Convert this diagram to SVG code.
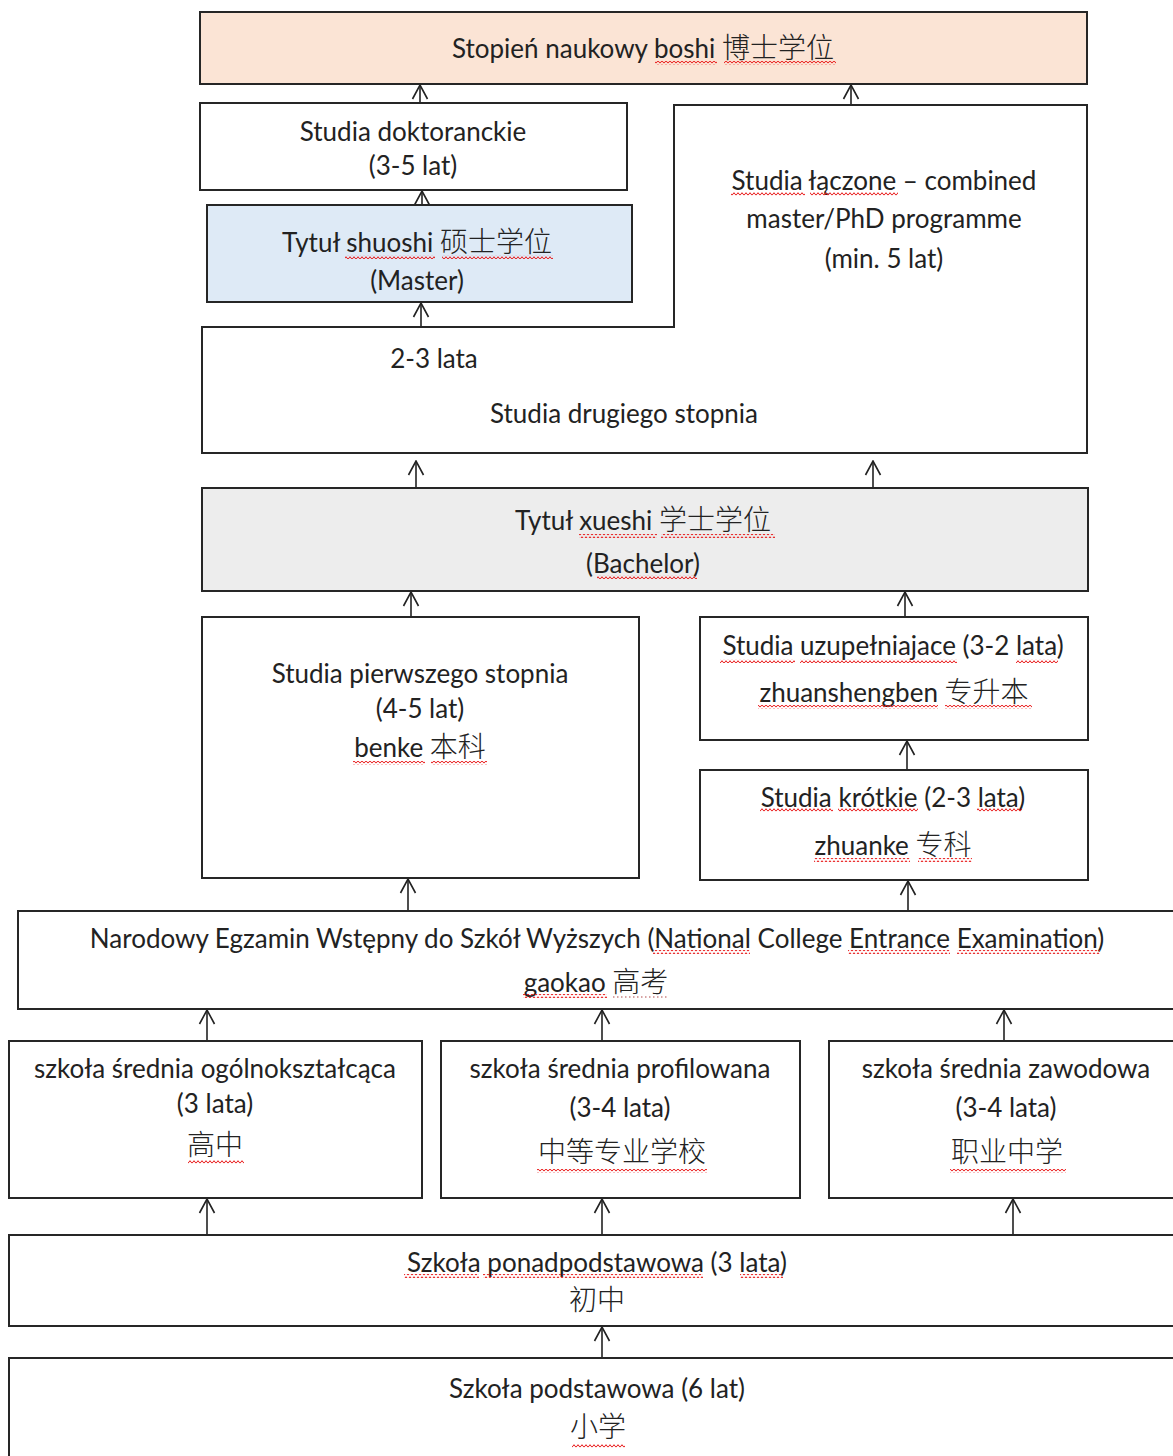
<svg xmlns="http://www.w3.org/2000/svg" width="1173" height="1456" viewBox="0 0 1173 1456">
<defs>
<style>
.b{fill:#fff;stroke:#262626;stroke-width:2}
.t{font-family:Lato,"Noto Sans CJK SC",sans-serif;font-size:26px;fill:#222;text-anchor:middle}
.c{font-family:"Noto Sans CJK SC",sans-serif;font-size:28px;font-weight:300}
.a{stroke:#222;stroke-width:1.6;fill:none;marker-end:url(#ah)}
.sq{fill:url(#sqp)}
</style>
<marker id="ah" markerUnits="userSpaceOnUse" markerWidth="16" markerHeight="18" viewBox="0 0 16 18" refX="15" refY="9" orient="auto">
<path d="M1,1.5 L15,9 L1,16.5" fill="none" stroke="#222" stroke-width="1.6"/>
</marker>
<pattern id="sqp" patternUnits="userSpaceOnUse" width="4" height="4">
<path d="M0,3.3 L2,0.7 L4,3.3" fill="none" stroke="#e81818" stroke-width="1"/>
</pattern>
</defs>

<g id="connectors">
<line class="a" x1="420" y1="103" x2="420" y2="85"/>
<line class="a" x1="851" y1="105" x2="851" y2="85"/>
<line class="a" x1="422" y1="205" x2="422" y2="191"/>
<line class="a" x1="421" y1="327" x2="421" y2="303"/>
<line class="a" x1="875" y1="340" x2="875" y2="313"/>
<line class="a" x1="416" y1="488" x2="416" y2="461"/>
<line class="a" x1="873" y1="488" x2="873" y2="461"/>
<line class="a" x1="411" y1="617" x2="411" y2="592"/>
<line class="a" x1="905" y1="617" x2="905" y2="592"/>
<line class="a" x1="907" y1="770" x2="907" y2="741"/>
<line class="a" x1="408" y1="911" x2="408" y2="879"/>
<line class="a" x1="908" y1="911" x2="908" y2="881"/>
<line class="a" x1="207" y1="1041" x2="207" y2="1010"/>
<line class="a" x1="602" y1="1041" x2="602" y2="1010"/>
<line class="a" x1="1004" y1="1041" x2="1004" y2="1010"/>
<line class="a" x1="207" y1="1235" x2="207" y2="1199"/>
<line class="a" x1="602" y1="1235" x2="602" y2="1199"/>
<line class="a" x1="1013" y1="1235" x2="1013" y2="1199"/>
<line class="a" x1="602" y1="1358" x2="602" y2="1327"/>
</g>

<g id="boshi">
<rect class="b" x="200" y="12" width="887" height="72" style="fill:#FBE4D5"/>
<text class="t" x="643" y="58">Stopień naukowy boshi <tspan class="c">博士学位</tspan></text>
<rect class="sq" x="655" y="61" width="62" height="4"/>
<rect class="sq" x="724" y="61" width="112" height="4"/>
</g>

<g id="doktoranckie">
<rect class="b" x="200" y="103" width="427" height="87"/>
<text class="t" x="413" y="141">Studia doktoranckie</text>
<text class="t" x="413" y="175">(3-5 lat)</text>
</g>

<g id="shuoshi">
<rect class="b" x="207" y="205" width="425" height="97" style="fill:#DEEAF6"/>
<text class="t" x="417" y="252">Tytuł shuoshi <tspan class="c">硕士学位</tspan></text>
<text class="t" x="417" y="290">(Master)</text>
<rect class="sq" x="345" y="255" width="90" height="4"/>
<rect class="sq" x="442" y="255" width="111" height="4"/>
</g>

<g id="drugie">
<path class="b" d="M202,327 H674 V105 H1087 V453 H202 Z"/>
<text class="t" x="884" y="190">Studia łączone – combined</text>
<text class="t" x="884" y="228">master/PhD programme</text>
<text class="t" x="884" y="268">(min. 5 lat)</text>
<rect class="sq" x="731" y="192" width="74" height="4"/>
<rect class="sq" x="810" y="192" width="88" height="4"/>
<text class="t" x="434" y="368">2-3 lata</text>
<text class="t" x="624" y="423">Studia drugiego stopnia</text>
</g>

<g id="xueshi">
<rect class="b" x="202" y="488" width="886" height="103" style="fill:#EDEDED"/>
<text class="t" x="643" y="530">Tytuł xueshi <tspan class="c">学士学位</tspan></text>
<text class="t" x="643" y="573">(Bachelor)</text>
<rect class="sq" x="579" y="534" width="78" height="4"/>
<rect class="sq" x="661" y="534" width="114" height="4"/>
<rect class="sq" x="597" y="575" width="100" height="4"/>
</g>

<g id="pierwszego">
<rect class="b" x="202" y="617" width="437" height="261"/>
<text class="t" x="420" y="683">Studia pierwszego stopnia</text>
<text class="t" x="420" y="718">(4-5 lat)</text>
<text class="t" x="420" y="757">benke <tspan class="c">本科</tspan></text>
<rect class="sq" x="353" y="761" width="72" height="4"/>
<rect class="sq" x="431" y="761" width="56" height="4"/>
</g>

<g id="zhuanshengben">
<rect class="b" x="700" y="617" width="388" height="123"/>
<text class="t" x="893" y="655">Studia uzupełniajace (3-2 lata)</text>
<text class="t" x="894" y="702">zhuanshengben <tspan class="c">专升本</tspan></text>
<rect class="sq" x="720" y="659" width="75" height="4"/>
<rect class="sq" x="800" y="659" width="157" height="4"/>
<rect class="sq" x="1016" y="659" width="42" height="4"/>
<rect class="sq" x="758" y="705" width="180" height="4"/>
<rect class="sq" x="945" y="705" width="87" height="4"/>
</g>

<g id="zhuanke">
<rect class="b" x="700" y="770" width="388" height="110"/>
<text class="t" x="893" y="807">Studia krótkie (2-3 lata)</text>
<text class="t" x="893" y="855">zhuanke <tspan class="c">专科</tspan></text>
<rect class="sq" x="760" y="808" width="73" height="4"/>
<rect class="sq" x="838" y="808" width="80" height="4"/>
<rect class="sq" x="977" y="808" width="45" height="4"/>
<rect class="sq" x="814" y="858" width="96" height="4"/>
<rect class="sq" x="918" y="858" width="54" height="4"/>
</g>

<g id="gaokao">
<rect class="b" x="18" y="911" width="1170" height="98"/>
<text class="t" x="597" y="948">Narodowy Egzamin Wstępny do Szkół Wyższych (National College Entrance Examination)</text>
<text class="t" x="596" y="992">gaokao <tspan class="c">高考</tspan></text>
<rect class="sq" x="653" y="950" width="97" height="4"/>
<rect class="sq" x="848" y="950" width="102" height="4"/>
<rect class="sq" x="957" y="950" width="143" height="4"/>
<rect class="sq" x="523" y="994" width="84" height="4"/>
<line x1="613" y1="997" x2="668" y2="997" stroke="#b04848" stroke-width="1.2" stroke-dasharray="1.5 2.5"/>
</g>

<g id="gaozhong">
<rect class="b" x="9" y="1041" width="413" height="157"/>
<text class="t" x="215" y="1078">szkoła średnia ogólnokształcąca</text>
<text class="t" x="215" y="1113">(3 lata)</text>
<text class="t" x="215" y="1155"><tspan class="c">高中</tspan></text>
<rect class="sq" x="188" y="1160" width="56" height="4"/>
</g>

<g id="zhongzhuan">
<rect class="b" x="441" y="1041" width="359" height="157"/>
<text class="t" x="620" y="1078">szkoła średnia profilowana</text>
<text class="t" x="620" y="1117">(3-4 lata)</text>
<text class="t" x="622" y="1162"><tspan class="c">中等专业学校</tspan></text>
<rect class="sq" x="537" y="1169" width="170" height="4"/>
</g>

<g id="zhiye">
<rect class="b" x="829" y="1041" width="360" height="157"/>
<text class="t" x="1006" y="1078">szkoła średnia zawodowa</text>
<text class="t" x="1006" y="1117">(3-4 lata)</text>
<text class="t" x="1007" y="1162"><tspan class="c">职业中学</tspan></text>
<rect class="sq" x="950" y="1169" width="116" height="4"/>
</g>

<g id="chuzhong">
<rect class="b" x="9" y="1235" width="1180" height="91"/>
<text class="t" x="597" y="1272">Szkoła ponadpodstawowa (3 lata)</text>
<text class="t" x="597" y="1310"><tspan class="c">初中</tspan></text>
<rect class="sq" x="404" y="1274" width="75" height="4"/>
<rect class="sq" x="483" y="1274" width="220" height="4"/>
<rect class="sq" x="740" y="1274" width="43" height="4"/>
</g>

<g id="xiaoxue">
<rect class="b" x="9" y="1358" width="1180" height="120"/>
<text class="t" x="597" y="1398">Szkoła podstawowa (6 lat)</text>
<text class="t" x="598" y="1437"><tspan class="c">小学</tspan></text>
<rect class="sq" x="572" y="1444" width="53" height="4"/>
</g>
</svg>
